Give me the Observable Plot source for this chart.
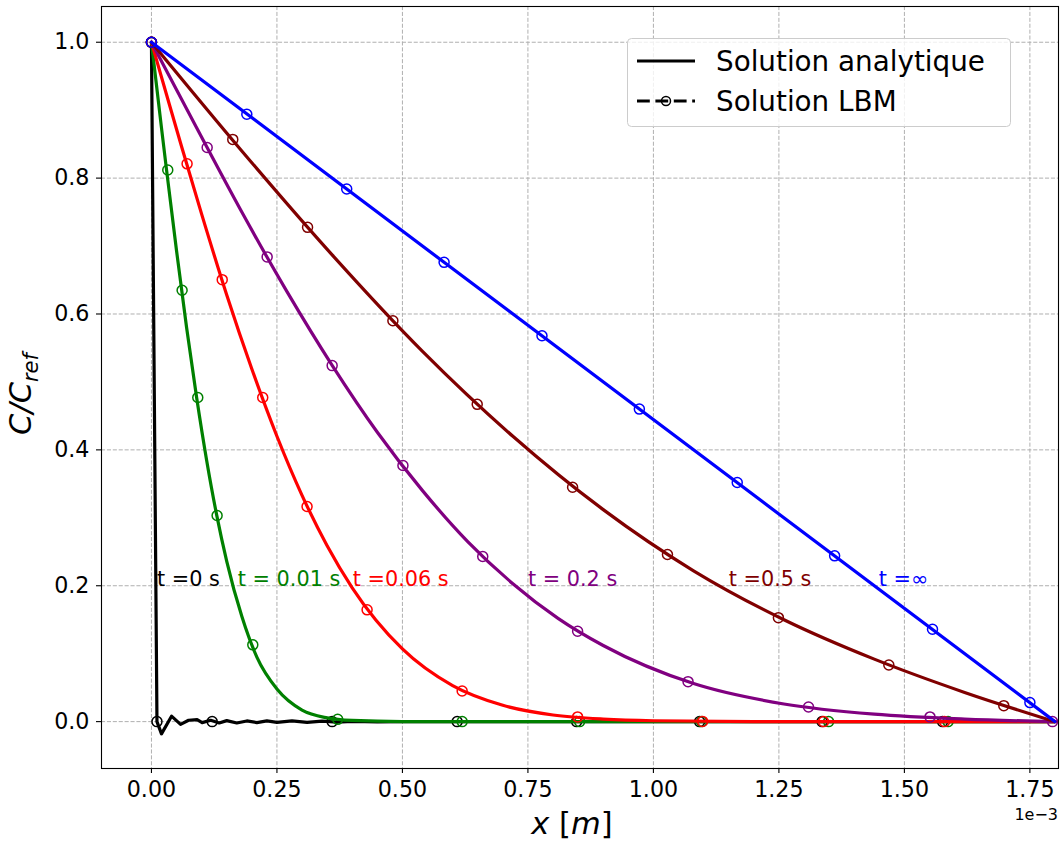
<!DOCTYPE html>
<html><head><meta charset="utf-8">
<script src="https://cdn.jsdelivr.net/npm/d3@7"></script>
<script src="https://cdn.jsdelivr.net/npm/@observablehq/plot@0.6"></script>
<style>
body{margin:0;background:#fff;}
#chart{position:relative;width:1062px;height:842px;}
svg{font-family:"DejaVu Sans",sans-serif;}
</style>
</head><body><div id="chart"></div>
<script>
// ---- tick labels / axes ----
const xTicks = [0, 0.25, 0.5, 0.75, 1.0, 1.25, 1.5, 1.75];   // in 1e-3 m
const yTicks = [0, 0.2, 0.4, 0.6, 0.8, 1.0];
const xOffsetLabel = "1e\u22123";

// ---- series ----
const seriesNames  = ["t0", "t001", "t006", "t02", "t05", "tinf"];
const seriesColors = ["#000000", "#008000", "#ff0000", "#800080", "#800000", "#0000ff"];
const seriesLabels = ["t =0 s", "t = 0.01 s", "t =0.06 s", "t = 0.2 s", "t =0.5 s", "t =\u221e"];
const labelX = [0.011, 0.172, 0.401, 0.75, 1.15, 1.449];
const labelY = [0.2, 0.2, 0.2, 0.2, 0.2, 0.2];

// analytic solution (x in 1e-3 m, C/Cref)
const t0X   = [0, 0.011, 0.02, 0.04, 0.058, 0.074, 0.091, 0.101, 0.118, 0.135, 0.15, 0.17, 0.19, 0.21, 0.23, 0.25, 0.28, 0.31, 0.34, 0.37, 0.40, 0.45, 0.5, 1.8];
const t0Y   = [1, 0, -0.018, 0.008, -0.004, 0.002, 0.003, -0.0015, 0.002, -0.002, 0.0015, -0.002, 0.001, -0.0015, 0.001, -0.001, 0.001, -0.001, 0.0008, -0.0008, 0.0005, -0.0005, 0, 0];
const t001X = [0, 0.01, 0.02, 0.03, 0.05, 0.07, 0.09, 0.11, 0.13, 0.15, 0.18, 0.21, 0.25, 0.3, 0.35, 0.4, 0.5, 1.8];
const t001Y = [1, 0.937, 0.874, 0.8125, 0.693, 0.580, 0.477, 0.3845, 0.304, 0.236, 0.155, 0.095, 0.048, 0.017, 0.0055, 0.0017, 0.0001, 0];
const t006X = [0, 0.03, 0.06, 0.1, 0.15, 0.2, 0.25, 0.3, 0.35, 0.4, 0.5, 0.6, 0.7, 0.8, 0.9, 1.0, 1.2, 1.8];
const t006Y = [1, 0.923, 0.8465, 0.747, 0.628, 0.519, 0.420, 0.333, 0.259, 0.197, 0.107, 0.053, 0.024, 0.0098, 0.0037, 0.0013, 0.0001, 0];
const t02X  = [0, 0.09, 0.18, 0.27, 0.36, 0.45, 0.54, 0.63, 0.72, 0.81, 0.90, 1.08, 1.26, 1.44, 1.62, 1.8];
const t02Y  = [1, 0.874, 0.750, 0.633, 0.5245, 0.426, 0.340, 0.265, 0.203, 0.152, 0.112, 0.056, 0.026, 0.011, 0.0037, 0];
const t05X  = [0, 0.18, 0.36, 0.54, 0.72, 0.9, 1.08, 1.26, 1.44, 1.62, 1.8];
const t05Y  = [1, 0.840, 0.687, 0.545, 0.420, 0.312, 0.222, 0.150, 0.092, 0.043, 0];
const tinfX = [0, 1.8];
const tinfY = [1, 0];

// LBM markers
const m0X   = [0, 0.011, 0.121, 0.36, 0.609, 0.847, 1.092, 1.336, 1.576];
const m0Y   = [1, 0, 0, 0, 0, 0, 0, 0, 0];
const m001X = [0, 0.0325, 0.0611, 0.0923, 0.1308, 0.2019, 0.371, 0.619, 0.853, 1.096, 1.349, 1.587];
const m001Y = [1, 0.812, 0.635, 0.477, 0.3034, 0.113, 0.0034, 0, 0, 0, 0, 0];
const m006X = [0, 0.071, 0.141, 0.2217, 0.310, 0.4296, 0.619, 0.849, 1.098, 1.339, 1.580];
const m006Y = [1, 0.821, 0.6505, 0.477, 0.3166, 0.1645, 0.045, 0.0069, 0.0003, 0, 0];
const m02X  = [0, 0.111, 0.2305, 0.36, 0.501, 0.66, 0.849, 1.069, 1.309, 1.551, 1.795];
const m02Y  = [1, 0.845, 0.684, 0.524, 0.377, 0.243, 0.133, 0.0588, 0.0216, 0.0069, 0];
const m05X  = [0, 0.162, 0.311, 0.481, 0.649, 0.839, 1.028, 1.249, 1.469, 1.698];
const m05Y  = [1, 0.857, 0.7275, 0.590, 0.467, 0.345, 0.246, 0.153, 0.0833, 0.0235];
const minfX = [0, 0.19, 0.389, 0.583, 0.778, 0.972, 1.167, 1.361, 1.556, 1.75];
const minfY = [1, 0.894, 0.784, 0.676, 0.568, 0.46, 0.352, 0.244, 0.136, 0.028];

const lineXs = [t0X, t001X, t006X, t02X, t05X, tinfX];
const lineYs = [t0Y, t001Y, t006Y, t02Y, t05Y, tinfY];
const mkXs = [m0X, m001X, m006X, m02X, m05X, minfX];
const mkYs = [m0Y, m001Y, m006Y, m02Y, m05Y, minfY];
const curves = ["linear", "monotone-x", "monotone-x", "monotone-x", "monotone-x", "linear"];

const FONT = "DejaVu Sans";
const marks = [
  Plot.gridX(xTicks, {stroke: "#b0b0b0", strokeOpacity: 1, strokeWidth: 1, strokeDasharray: "4.1,1.8"}),
  Plot.gridY(yTicks, {stroke: "#b0b0b0", strokeOpacity: 1, strokeWidth: 1, strokeDasharray: "4.1,1.8"})
];
seriesNames.forEach((s, i) => {
  const rows = lineXs[i].map((x, j) => ({x, y: lineYs[i][j]}));
  const mk = mkXs[i].map((x, j) => ({x, y: mkYs[i][j]}));
  marks.push(Plot.line(rows, {x: "x", y: "y", stroke: seriesColors[i], strokeWidth: 3.2, curve: curves[i]}));
  marks.push(Plot.dot(mk, {x: "x", y: "y", r: 5, stroke: seriesColors[i], strokeWidth: 1.5, fill: "none"}));
});
const lab = seriesLabels.map((t, i) => ({t, x: labelX[i], y: labelY[i], c: seriesColors[i]}));
marks.push(Plot.text(lab, {x: "x", y: "y", text: "t", fill: "c", textAnchor: "start", lineAnchor: "bottom", fontSize: 20.8, fontFamily: FONT}));
marks.push(Plot.axisX(xTicks, {tickSize: 5, tickPadding: 8, strokeWidth: 1.1, fontSize: 22.2, fontFamily: FONT, tickFormat: d3.format(".2f"), label: null, color: "black"}));
marks.push(Plot.axisY(yTicks, {tickSize: 5, tickPadding: 7, strokeWidth: 1.1, fontSize: 22.2, fontFamily: FONT, tickFormat: d3.format(".1f"), label: null, color: "black"}));
marks.push(Plot.frame({stroke: "black", strokeWidth: 1.1}));

const chart = Plot.plot({
  width: 1062, height: 842,
  marginLeft: 101, marginRight: 4, marginTop: 6, marginBottom: 74,
  style: {background: "#fff", fontFamily: FONT, color: "black"},
  x: {domain: [-0.0995, 1.807], label: null},
  y: {domain: [-0.069, 1.0526], label: null},
  color: {type: "identity"},
  marks
});
document.getElementById("chart").appendChild(chart);

// axis labels, offset text, legend (layout decorations)
const svg = d3.select(chart);
const xl = svg.append("text").attr("x", 572).attr("y", 834).attr("text-anchor", "middle")
  .attr("font-size", 30.5).attr("font-family", FONT).attr("fill", "black");
xl.append("tspan").attr("font-style", "italic").text("x");
xl.append("tspan").text("\u00a0[");
xl.append("tspan").attr("font-style", "italic").text("m");
xl.append("tspan").text("]");

const yl = svg.append("text").attr("transform", "translate(31,394) rotate(-90)").attr("text-anchor", "middle")
  .attr("font-size", 30.5).attr("font-family", FONT).attr("fill", "black").attr("font-style", "italic");
yl.append("tspan").text("C/C");
yl.append("tspan").attr("font-size", 21).attr("dy", 7).text("ref");

svg.append("text").attr("x", 1058).attr("y", 820).attr("text-anchor", "end")
  .attr("font-size", 16).attr("font-family", FONT).attr("fill", "black").text(xOffsetLabel);

const lg = svg.append("g").attr("text-anchor", "start");
lg.append("rect").attr("x", 627.5).attr("y", 38.5).attr("width", 383).attr("height", 88).attr("rx", 4)
  .attr("fill", "white").attr("fill-opacity", 0.8).attr("stroke", "#cccccc").attr("stroke-width", 1);
lg.append("line").attr("x1", 637).attr("x2", 695).attr("y1", 61).attr("y2", 61).attr("stroke", "black").attr("stroke-width", 3.2);
lg.append("line").attr("x1", 637).attr("x2", 695).attr("y1", 101).attr("y2", 101).attr("stroke", "black").attr("stroke-width", 3.2).attr("stroke-dasharray", "12.8,5.6");
lg.append("circle").attr("cx", 666).attr("cy", 101).attr("r", 4.5).attr("fill", "none").attr("stroke", "black").attr("stroke-width", 1.5);
const legendTexts = ["Solution analytique", "Solution LBM"];
legendTexts.forEach((t, i) => {
  lg.append("text").attr("x", 716).attr("y", 71 + 40 * i).attr("text-anchor", "start").attr("font-size", 27.8).attr("font-family", FONT).attr("fill", "black").text(t);
});
</script>
</body></html>
